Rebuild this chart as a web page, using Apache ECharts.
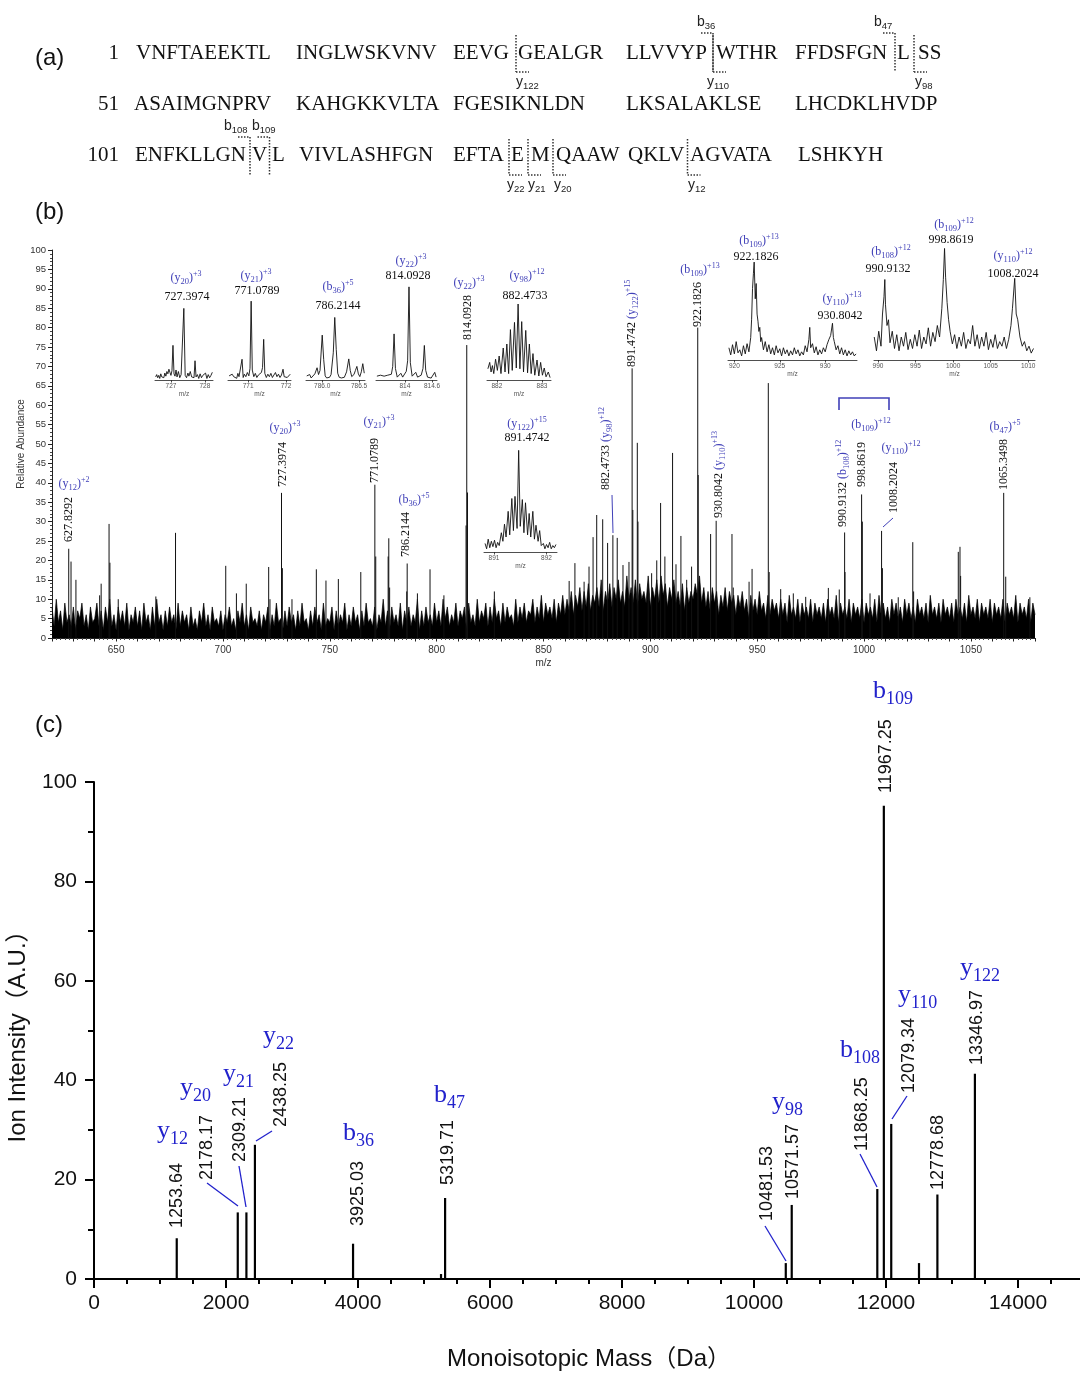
<!DOCTYPE html>
<html>
<head>
<meta charset="utf-8">
<script src="https://cdn.jsdelivr.net/npm/echarts@6/dist/echarts.min.js"></script>
<style>
html,body{margin:0;padding:0;background:#fff}
#main{width:1080px;height:1373px}
</style>
</head>
<body>
<div id="main"></div>
<script>
// ---------- (b) top-down MS/MS spectrum ----------
// baseline noise, one value per m/z starting at 620
var noiseStart = 620;
var noise = [
  8,3,10,4,7,2,9,4,6,3, 8,2,7,5,9,3,6,2,8,4,
  5,9,3,7,2,8,4,10,3,6, 2,8,4,7,3,9,2,6,4,8,
  3,7,2,9,4,6,2,8,3,10, 4,6,2,7,3,8,4,6,2,9,
  3,7,4,6,2,8,3,5,2,7, 4,9,3,6,2,8,4,5,3,7,
  2,6,4,8,3,5,2,7,4,9, 3,6,2,8,4,5,3,7,2,6,
  4,8,2,6,3,9,4,5,2,7, 3,8,4,6,2,7,3,9,4,5,
  2,7,3,8,4,6,2,9,3,5, 4,8,2,7,3,6,4,9,2,6,
  3,8,4,6,2,7,3,9,4,5, 3,8,2,6,4,10,3,7,2,8,
  4,6,3,9,2,7,4,8,3,6, 4,10,2,7,3,8,4,6,3,9,
  4,7,3,10,5,8,3,6,4,9, 3,7,5,8,2,9,4,6,3,10,
  4,7,5,9,3,8,4,10,5,7, 3,9,4,8,5,6,3,10,4,8,
  5,9,4,7,6,10,4,8,5,11, 4,9,6,8,5,10,4,9,6,11,
  6,10,7,12,6,11,8,13,7,12, 8,14,7,11,9,13,8,15,7,12,
  9,14,8,13,10,15,9,12,8,16, 10,13,9,15,8,14,10,12,9,16,
  8,13,10,15,9,16,11,14,8,13, 10,15,9,12,8,14,7,13,9,12,
  10,14,11,16,9,13,8,12,7,13, 9,12,6,11,8,13,7,12,9,11,
  6,11,8,12,7,10,5,11,7,10, 6,12,7,9,5,11,6,10,7,9,
  5,10,6,9,4,11,6,8,5,10, 4,9,6,8,5,10,4,9,6,8,
  5,9,4,10,6,8,5,11,4,9, 6,8,5,10,4,9,6,8,5,10,
  4,9,6,8,5,10,4,11,6,9, 5,8,4,10,6,9,5,8,4,10,
  6,9,5,8,4,10,6,8,5,9, 4,11,6,8,5,9,4,10,6,8,
  5,9,4,10,6,8,5,9,4,11, 6,8,5,10,4,9,6,8,5,10,
  4,9,6,8,5,10,4,9,6,8, 5,11,4,9,6,8,5,10,4,9,
  6
];
var peakMz = [627.83,628.9,631.2,642.3,643.0,646.7,647.1,651.0,668.6,677.8,
  701.3,706.3,710.9,721.4,722.0,727.40,727.8,732.3,743.7,748.2,754.0,764.5,
  771.08,771.5,777.3,777.6,778.0,786.0,786.21,791.0,796.9,803.4,813.76,814.09,814.43,827.0,
  862.0,864.7,869.0,871.3,873.2,874.9,877.7,880.0,882.47,884.5,887.2,890.0,
  891.47,891.8,893.9,894.2,899.0,900.6,903.0,904.8,906.8,910.4,912.0,914.3,917.0,919.3,
  922.18,922.4,928.2,930.80,938.2,938.8,946.2,947.6,955.2,955.6,961.0,966.9,972.7,
  983.3,988.4,990.91,991.1,998.86,999.2,1002.8,1008.20,1008.6,1016.0,1022.8,1023.2,
  1044.1,1044.9,1045.2,1065.35,1066.3,1077.6];
var peakAb = [23,19.7,15,11,14,29.4,19.4,10,10.7,27.1,
  18.6,11.5,14,18.3,10,37.4,18,10,17.7,14.8,15.2,17,
  39.5,21,21,25.7,13,12,19.2,11.5,17.7,11,29,75.5,37.5,12,
  14.7,19.3,14.5,18.4,26,31.7,30.6,24.5,26.5,25.8,18.8,19.6,
  69.5,33,50.3,30,14,16.7,20,34.8,21,47.7,19,26.3,15,18.4,
  80,42,26.8,30.2,26.8,13,14.5,17.8,65.7,17,12.6,11.5,10.6,
  12.9,12.5,27.2,17,37,30,11.5,27.6,18,10.5,24.7,12,
  22.2,23.5,16,37.4,15.8,10.5];

// zoomed isotope profiles (relative height 0-100 inside each inset)
var profY20 = [[726.55,4],[726.58,7],[726.61,3],[726.64,6],[726.67,2],[726.70,8],[726.73,4],[726.76,6],[726.79,3],[726.82,9],[726.85,5],[726.88,11],[726.91,8],[726.94,14],[726.97,10],[727.00,6],[727.03,12],[727.06,45],[727.09,8],[727.12,5],[727.15,13],[727.18,4],[727.22,11],[727.26,3],[727.30,7],[727.34,5],[727.38,93],[727.42,6],[727.46,3],[727.50,9],[727.53,5],[727.57,11],[727.61,4],[727.65,6],[727.68,3],[727.71,25],[727.74,4],[727.78,7],[727.82,2],[727.86,8],[727.90,3],[727.94,6],[727.98,4],[728.02,9],[728.06,2],[728.10,7],[728.14,3],[728.18,6],[728.22,10]];
var profY21 = [[770.50,5],[770.54,3],[770.58,7],[770.62,4],[770.66,6],[770.70,2],[770.73,8],[770.76,4],[770.80,6],[770.84,25],[770.87,3],[770.90,7],[770.94,4],[770.98,9],[771.02,5],[771.05,14],[771.08,95],[771.11,12],[771.15,4],[771.19,8],[771.23,3],[771.27,6],[771.31,4],[771.35,9],[771.38,15],[771.41,49],[771.44,8],[771.48,3],[771.52,7],[771.56,4],[771.60,8],[771.64,3],[771.68,6],[771.72,9],[771.76,4],[771.80,7],[771.84,3],[771.88,6],[771.92,13],[771.95,4],[771.99,6],[772.03,3],[772.07,5],[772.11,7]];
var profB36 = [[785.79,6],[785.81,4],[785.83,8],[785.85,3],[785.87,5],[785.90,9],[785.93,18],[785.95,8],[785.97,14],[786.00,66],[786.02,30],[786.04,6],[786.06,3],[786.08,5],[786.10,4],[786.12,8],[786.15,40],[786.17,92],[786.19,45],[786.21,10],[786.23,4],[786.26,3],[786.28,5],[786.30,4],[786.33,12],[786.36,31],[786.38,14],[786.40,5],[786.43,8],[786.45,14],[786.47,20],[786.49,9],[786.51,5],[786.53,12],[786.55,24],[786.57,10]];
var profY22 = [[813.38,4],[813.42,2],[813.46,5],[813.50,3],[813.54,4],[813.58,2],[813.62,5],[813.66,3],[813.70,6],[813.73,14],[813.76,48],[813.79,12],[813.83,3],[813.87,4],[813.91,7],[813.95,3],[813.99,4],[814.03,9],[814.06,20],[814.09,97],[814.12,18],[814.16,4],[814.20,3],[814.24,8],[814.28,3],[814.32,4],[814.36,5],[814.40,12],[814.43,36],[814.46,10],[814.50,3],[814.54,4],[814.58,2],[814.62,3],[814.66,8],[814.69,3]];
var profY98 = [[881.80,14],[881.84,22],[881.87,10],[881.90,18],[881.93,8],[881.97,26],[882.01,12],[882.05,30],[882.09,8],[882.14,40],[882.18,10],[882.22,45],[882.26,8],[882.30,63],[882.34,12],[882.39,72],[882.43,15],[882.47,95],[882.51,14],[882.55,73],[882.59,10],[882.64,62],[882.68,9],[882.72,45],[882.76,8],[882.80,33],[882.84,6],[882.89,25],[882.93,5],[882.97,22],[883.01,6],[883.05,15],[883.09,4],[883.14,10],[883.18,3]];
var profY122 = [[890.83,8],[890.86,3],[890.89,12],[890.92,4],[890.95,10],[890.98,5],[891.01,11],[891.04,4],[891.07,9],[891.10,6],[891.14,18],[891.17,10],[891.20,26],[891.23,14],[891.27,38],[891.30,16],[891.34,50],[891.37,20],[891.40,52],[891.44,22],[891.47,95],[891.50,24],[891.54,49],[891.57,18],[891.60,46],[891.64,16],[891.67,36],[891.70,14],[891.74,38],[891.77,12],[891.80,25],[891.84,10],[891.87,20],[891.90,6],[891.94,8],[891.97,3],[892.00,7],[892.03,4],[892.06,9],[892.09,3],[892.12,6],[892.15,4],[892.18,7]];
var profZ13 = [[919.4,12],[919.6,5],[919.8,15],[920.0,6],[920.2,18],[920.4,7],[920.6,10],[920.8,4],[921.0,14],[921.2,6],[921.4,16],[921.6,8],[921.8,22],[921.9,40],[922.0,70],[922.1,85],[922.18,96],[922.3,60],[922.4,75],[922.5,45],[922.6,38],[922.7,28],[922.8,32],[922.9,18],[923.0,22],[923.2,10],[923.4,18],[923.6,8],[923.8,15],[924.0,6],[924.2,12],[924.4,5],[924.6,14],[924.8,7],[925.0,11],[925.2,4],[925.4,12],[925.6,6],[925.8,10],[926.0,4],[926.2,9],[926.4,5],[926.6,12],[926.8,6],[927.0,10],[927.2,4],[927.4,8],[927.6,5],[927.8,14],[928.0,8],[928.2,20],[928.3,32],[928.4,12],[928.6,16],[928.8,7],[929.0,13],[929.2,5],[929.4,10],[929.6,6],[929.8,12],[930.0,8],[930.2,15],[930.4,20],[930.6,24],[930.8,36],[930.9,22],[931.0,18],[931.2,10],[931.4,14],[931.6,6],[931.8,12],[932.0,5],[932.2,10],[932.4,4],[932.6,9],[932.8,5],[933.0,8],[933.2,4],[933.4,6]];
var profZ12 = [[989.5,20],[989.8,8],[990.1,25],[990.4,12],[990.6,40],[990.8,55],[990.91,70],[991.0,48],[991.2,30],[991.4,35],[991.6,15],[991.9,25],[992.2,10],[992.5,22],[992.8,8],[993.1,20],[993.4,12],[993.7,24],[994.0,9],[994.3,18],[994.6,10],[994.9,22],[995.2,12],[995.5,26],[995.8,10],[996.1,20],[996.4,14],[996.7,28],[997.0,12],[997.3,24],[997.6,16],[997.9,30],[998.2,20],[998.5,45],[998.7,70],[998.86,97],[999.0,72],[999.2,50],[999.4,35],[999.6,25],[999.9,14],[1000.2,22],[1000.5,10],[1000.8,20],[1001.1,12],[1001.4,24],[1001.7,10],[1002.0,18],[1002.3,14],[1002.6,30],[1002.9,12],[1003.2,22],[1003.5,10],[1003.8,20],[1004.1,12],[1004.4,24],[1004.7,9],[1005.0,18],[1005.3,11],[1005.6,22],[1005.9,10],[1006.2,16],[1006.5,12],[1006.8,20],[1007.1,10],[1007.4,18],[1007.7,30],[1007.9,45],[1008.2,71],[1008.4,40],[1008.6,35],[1008.9,20],[1009.2,12],[1009.5,16],[1009.8,8],[1010.1,12],[1010.4,6],[1010.7,10]];
var insetTicks = [[727,728],[771,772],[786.0,786.5],[814,814.6],[882,883],[891,892],[920,925,930],[990,995,1000,1005,1010]];

// ---------- (c) deconvoluted fragment masses ----------
var massC  = [1253.64, 2178.17, 2309.21, 2438.25, 3925.03, 5258, 5319.71, 10481.53, 10571.57, 11868.25, 11967.25, 12079.34, 12500, 12778.68, 13346.97];
var intenC = [8.2, 13.4, 13.4, 27, 7.1, 1.0, 16.3, 3.2, 14.9, 18.1, 95.2, 31.2, 3.2, 17, 41.3];

// ---------- (a) sequence ----------
var seqStart = ['1', '51', '101'];
var seqRows = [
  ['VNFTAEEKTL','INGLWSKVNV','EEVG','GEALGR','LLVVYP','WTHR','FFDSFGN','L','SS'],
  ['ASAIMGNPRV','KAHGKKVLTA','FGESIKNLDN','LKSALAKLSE','LHCDKLHVDP'],
  ['ENFKLLGN','V','L','VIVLASHFGN','EFTA','E','M','QAAW','QKLV','AGVATA','LSHKYH']
];

// ---------- layout (pixels) ----------
var serif = "'Liberation Serif','Times New Roman',serif";
var sans = "'Liberation Sans',Arial,'Noto Sans CJK SC',sans-serif";
var blueB = '#4040b8', blueC = '#2222cc';

var seqX = [
  [136,296,453,518,626,716,795,897,918],
  [134,296,453,626,795],
  [135,252,272,299,453,511,531,556,628,690,798]
];
var seqY = [53, 104, 155];
var cutRow = [[33,72], null, [137,175]];
// row, ion, number, x of cut, label left
var cuts = [
  [0,'y','122',516,516],[0,'b','36',713,697],[0,'y','110',713,707],
  [0,'b','47',895,874],[0,'y','98',914,915],
  [2,'b','108',250,224],[2,'b','109',269.5,252],
  [2,'y','22',509,507],[2,'y','21',528,528],[2,'y','20',553,554],[2,'y','12',687.5,688]
];
var insetBox = [ // left, top, width, height, min, max
  [155,303,58,77,726.53,728.24],
  [228,297,63,83,770.47,772.13],
  [306,312,59,68,785.78,786.58],
  [376,284,61,96,813.36,814.71],
  [487,300,64,80,881.78,883.2],
  [484,445,73,107,890.81,892.2],
  [728,258,129,102,919.3,933.5],
  [874,245,161,115,989.47,1010.9]
];
var insetProf = [profY20, profY21, profB36, profY22, profY98, profY122, profZ13, profZ12];

var chart = echarts.init(document.getElementById('main'));

function sticks(color, width) {
  return function (params, api) {
    var x = api.value(0), y = api.value(1);
    var p = api.coord([x, y]), b = api.coord([x, 0]);
    return {type: 'line', shape: {x1: p[0], y1: p[1], x2: b[0], y2: b[1]},
      style: {stroke: color, lineWidth: width}};
  };
}

var grids = [{left: 52, top: 250, width: 983, height: 388, outerBoundsMode: 'none'}];
var xAxes = [{
  gridIndex: 0, type: 'value', min: 620, max: 1080, interval: 10,
  axisLine: {show: true, lineStyle: {color: '#222', width: 1}},
  axisTick: {show: true, length: 3.5, lineStyle: {color: '#222'}},
  minorTick: {show: true, splitNumber: 5, length: 2, lineStyle: {color: '#444'}},
  axisLabel: {fontSize: 10, color: '#333', margin: 7, fontFamily: sans,
    formatter: function (v) { return v % 50 === 0 ? String(v) : ''; }},
  splitLine: {show: false},
  name: 'm/z', nameLocation: 'middle', nameGap: 20,
  nameTextStyle: {fontSize: 10, color: '#333', fontFamily: sans}
}];
var yAxes = [{
  gridIndex: 0, type: 'value', min: 0, max: 100, interval: 5,
  axisLine: {show: true, lineStyle: {color: '#222', width: 1}},
  axisTick: {show: true, length: 4, lineStyle: {color: '#222'}},
  minorTick: {show: true, splitNumber: 5, length: 2, lineStyle: {color: '#444'}},
  axisLabel: {fontSize: 9.5, color: '#333', margin: 6, fontFamily: sans},
  splitLine: {show: false},
  name: 'Relative Abundance', nameLocation: 'middle', nameGap: 26, nameMoveOverlap: false,
  nameTextStyle: {fontSize: 10, color: '#333', fontFamily: sans}
}];
var series = [{
  type: 'line', xAxisIndex: 0, yAxisIndex: 0, silent: true, symbol: 'none', z: 2,
  data: noise.map(function (v, i) { return [noiseStart + i, v]; }),
  lineStyle: {color: '#000', width: 0.7}, areaStyle: {color: '#000', opacity: 1}
}, {
  type: 'custom', xAxisIndex: 0, yAxisIndex: 0, silent: true, z: 3,
  renderItem: sticks('#111', 1), encode: {x: 0, y: 1},
  data: peakMz.map(function (m, i) { return [m, peakAb[i]]; })
}];

insetBox.forEach(function (b, k) {
  var gi = k + 1, ticks = insetTicks[k];
  grids.push({left: b[0], top: b[1], width: b[2], height: b[3], outerBoundsMode: 'none'});
  xAxes.push({
    gridIndex: gi, type: 'value', min: b[4], max: b[5],
    axisLine: {show: true, lineStyle: {color: '#222', width: 0.8}},
    axisTick: {show: true, length: 2.5, customValues: ticks, lineStyle: {color: '#222', width: 0.8}},
    axisLabel: {customValues: ticks, fontSize: 6.5, margin: 3, color: '#555', fontFamily: sans,
      formatter: function (v) { return k === 2 ? v.toFixed(1) : String(v); }},
    splitLine: {show: false},
    name: 'm/z', nameLocation: 'middle', nameGap: 11,
    nameTextStyle: {fontSize: 6.5, color: '#555', fontFamily: sans}
  });
  yAxes.push({gridIndex: gi, type: 'value', min: 0, max: 100, show: false});
  series.push({
    type: 'line', xAxisIndex: gi, yAxisIndex: gi, silent: true, symbol: 'none',
    data: insetProf[k], lineStyle: {color: '#111', width: 0.9}
  });
});

// (c)
grids.push({left: 94, top: 782, width: 990, height: 497, outerBoundsMode: 'none'});
xAxes.push({
  gridIndex: 9, type: 'value', min: 0, max: 15000, interval: 2000,
  axisLine: {show: true, lineStyle: {color: '#000', width: 2}},
  axisTick: {show: true, length: 9, lineStyle: {color: '#000', width: 2}},
  minorTick: {show: true, splitNumber: 4, length: 5, lineStyle: {color: '#000', width: 2}},
  axisLabel: {fontSize: 21, color: '#111', margin: 14, fontFamily: sans, showMaxLabel: false,
    formatter: function (v) { return String(v); }},
  splitLine: {show: false},
  name: 'Monoisotopic Mass（Da）', nameLocation: 'middle', nameGap: 68,
  nameTextStyle: {fontSize: 24, color: '#111', fontFamily: sans}
});
yAxes.push({
  gridIndex: 9, type: 'value', min: 0, max: 100, interval: 20,
  axisLine: {show: true, lineStyle: {color: '#000', width: 2}},
  axisTick: {show: true, length: 9, lineStyle: {color: '#000', width: 2}},
  minorTick: {show: true, splitNumber: 2, length: 6, lineStyle: {color: '#000', width: 2}},
  axisLabel: {fontSize: 21, color: '#111', margin: 17, fontFamily: sans},
  splitLine: {show: false},
  name: 'Ion Intensity（A.U.）', nameLocation: 'middle', nameGap: 64,
  nameTextStyle: {fontSize: 24, color: '#111', fontFamily: sans}
});
series.push({
  type: 'custom', xAxisIndex: 9, yAxisIndex: 9, silent: true,
  renderItem: sticks('#000', 2.2), encode: {x: 0, y: 1},
  data: massC.map(function (m, i) { return [m, intenC[i]]; })
});

// ---------- annotations ----------
var g = [];
function txt(x, y, text, font, fill, align, rot, rich) {
  g.push({type: 'text', x: x, y: y, rotation: rot || 0, z: 100, silent: true,
    style: {text: text, font: font, fill: fill || '#111', align: align || 'left', textAlign: align || 'left',
      verticalAlign: 'middle', textVerticalAlign: 'middle', rich: rich}});
}
function seg(x1, y1, x2, y2, color, w, dash) {
  g.push({type: 'line', z: 100, silent: true, shape: {x1: x1, y1: y1, x2: x2, y2: y2},
    style: {stroke: color, lineWidth: w, lineDash: dash || null}});
}

txt(35, 58, '(a)', '24px ' + sans, '#111');
txt(35, 212, '(b)', '24px ' + sans, '#111');
txt(35, 725, '(c)', '24px ' + sans, '#111');

// sequence
seqRows.forEach(function (row, r) {
  txt(119, seqY[r], seqStart[r], '21px ' + serif, '#111', 'right');
  row.forEach(function (s, i) { txt(seqX[r][i], seqY[r], s, '21px ' + serif, '#111'); });
});
var richA = {
  m: {fontFamily: sans, fontSize: 14, fill: '#222', lineHeight: 19},
  s: {fontFamily: sans, fontSize: 9.5, fill: '#222', lineHeight: 10, verticalAlign: 'bottom'}
};
cuts.forEach(function (c) {
  var t = cutRow[c[0]][0], b = cutRow[c[0]][1], x = c[3];
  if (c[1] === 'b') {
    seg(x - 12, t, x, t, '#333', 1.5, [1.5, 1.5]);
    seg(x, t, x, b, '#333', 1.5, [1.5, 1.5]);
    txt(c[4], t - 11, '{m|b}{s|' + c[2] + '}', '14px ' + sans, '#222', 'left', 0, richA);
  } else {
    seg(x, t + 2, x, b, '#333', 1.5, [1.5, 1.5]);
    seg(x, b, x + 13, b, '#333', 1.5, [1.5, 1.5]);
    txt(c[4], b + 10, '{m|y}{s|' + c[2] + '}', '14px ' + sans, '#222', 'left', 0, richA);
  }
});

// (b) labels
var richB = {
  n: {fontFamily: serif, fontSize: 12, fill: '#111', lineHeight: 16},
  m: {fontFamily: serif, fontSize: 12, fill: blueB, lineHeight: 16},
  s: {fontFamily: serif, fontSize: 8.5, fill: blueB, lineHeight: 9, verticalAlign: 'bottom'},
  p: {fontFamily: serif, fontSize: 8, fill: blueB, lineHeight: 8, verticalAlign: 'top'}
};
function ionB(ion, num, chg) { return '{m|(' + ion + '}{s|' + num + '}{m|)}{p|' + chg + '}'; }
var horizB = [
  [74,484,'y','12','+2'],[285,428,'y','20','+3'],[379,422,'y','21','+3'],[414,500,'b','36','+5'],
  [469,283,'y','22','+3'],[700,270,'b','109','+13'],[871,425,'b','109','+12'],
  [901,448,'y','110','+12'],[1005,427,'b','47','+5'],
  // inset titles
  [186,278,'y','20','+3'],[256,276,'y','21','+3'],[338,287,'b','36','+5'],[411,261,'y','22','+3'],
  [527,276,'y','98','+12'],[527,424,'y','122','+15'],[759,241,'b','109','+13'],[842,299,'y','110','+13'],
  [891,252,'b','108','+12'],[954,225,'b','109','+12'],[1013,256,'y','110','+12']
];
horizB.forEach(function (h) { txt(h[0], h[1], ionB(h[2], h[3], h[4]), '12px ' + serif, blueB, 'center', 0, richB); });
var insetNum = [
  [187,297,'727.3974'],[257,291,'771.0789'],[338,306,'786.2144'],[408,276,'814.0928'],
  [525,296,'882.4733'],[527,438,'891.4742'],[756,257,'922.1826'],[840,316,'930.8042'],
  [888,269,'990.9132'],[951,240,'998.8619'],[1013,274,'1008.2024']
];
insetNum.forEach(function (h) { txt(h[0], h[1], '{n|' + h[2] + '}', '12px ' + serif, '#111', 'center', 0, richB); });
var rotB = [
  [69,542,'627.8292'],[283,487,'727.3974'],[375,483,'771.0789'],[406,557,'786.2144'],
  [468,340,'814.0928'],[606,490,'882.4733','y','98','+12'],[632,367,'891.4742','y','122','+15'],
  [698,327,'922.1826'],[719,518,'930.8042','y','110','+13'],[843,527,'990.9132','b','108','+12'],
  [862,487,'998.8619'],[894,513,'1008.2024'],[1004,490,'1065.3498']
];
rotB.forEach(function (r) {
  var t = '{n|' + r[2] + (r[3] ? ' ' : '') + '}' + (r[3] ? ionB(r[3], r[4], r[5]) : '');
  txt(r[0], r[1], t, '12px ' + serif, '#111', 'left', Math.PI / 2, richB);
});
seg(612, 495, 613, 533, blueB, 1);
seg(893, 518, 883, 527, blueB, 1);
g.push({type: 'polyline', z: 100, silent: true, shape: {points: [[839, 410], [839, 398], [889, 398], [889, 410]]},
  style: {stroke: blueB, lineWidth: 1.6, fill: null}});

// (c) labels
var rotC = [
  [177,1228,'1253.64'],[207,1180,'2178.17'],[240,1162,'2309.21'],[281,1127,'2438.25'],
  [358,1226,'3925.03'],[448,1185,'5319.71'],[767,1221,'10481.53'],[793,1199,'10571.57'],
  [862,1151,'11868.25'],[886,793,'11967.25'],[909,1093,'12079.34'],[938,1190,'12778.68'],
  [977,1065,'13346.97']
];
rotC.forEach(function (r) { txt(r[0], r[1], r[2], '18px ' + sans, '#111', 'left', Math.PI / 2); });
var richC = {
  m: {fontFamily: serif, fontSize: 26, fill: blueC, lineHeight: 34},
  s: {fontFamily: serif, fontSize: 18, fill: blueC, lineHeight: 18, verticalAlign: 'bottom'}
};
var ionsC = [
  [157,1131,'y','12'],[180,1088,'y','20'],[223,1074,'y','21'],[263,1036,'y','22'],
  [343,1133,'b','36'],[434,1095,'b','47'],[772,1102,'y','98'],[840,1050,'b','108'],
  [873,691,'b','109'],[898,995,'y','110'],[960,968,'y','122']
];
ionsC.forEach(function (c) { txt(c[0], c[1], '{m|' + c[2] + '}{s|' + c[3] + '}', '26px ' + serif, blueC, 'left', 0, richC); });
[[207,1183,238,1206],[239,1166,246,1207],[272,1131,256,1141],[765,1226,786,1261],[860,1154,877,1187],[907,1096,892,1119]]
  .forEach(function (l) { seg(l[0], l[1], l[2], l[3], blueC, 1.3); });

chart.setOption({
  animation: false,
  backgroundColor: '#fff',
  grid: grids,
  xAxis: xAxes,
  yAxis: yAxes,
  series: series,
  graphic: {elements: g}
});
</script>
</body>
</html>
